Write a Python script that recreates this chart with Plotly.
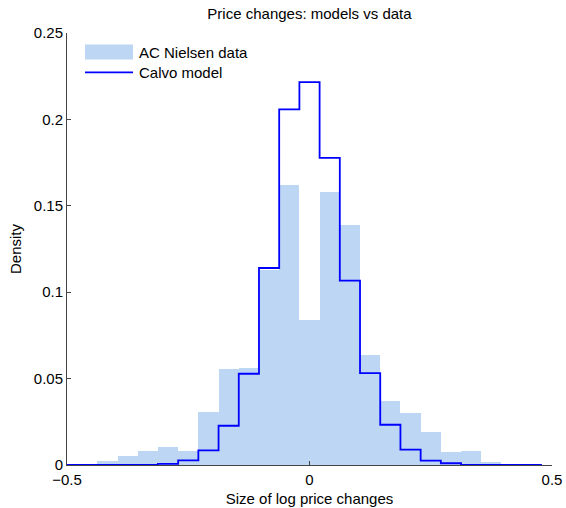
import numpy as np
import plotly.graph_objects as go

# ---- data ----
bin_width = 1 / 24
data_bins = list(range(-10, 10))          # bin index k, centre = k/24
data_density = [0.0025, 0.0054, 0.0083, 0.0106, 0.0083, 0.0308, 0.0557, 0.0561,
                0.113, 0.1618, 0.084, 0.158, 0.139, 0.0637, 0.0372, 0.0299,
                0.0193, 0.0077, 0.0083, 0.0019]
calvo_bins = list(range(-12, 12))
calvo_density = [0.0, 0.0, 0.0, 0.0001, 0.0002, 0.0006, 0.0027, 0.0085, 0.0227,
                 0.0528, 0.114, 0.2058, 0.2216, 0.1777, 0.1067, 0.0532, 0.0233,
                 0.0089, 0.0025, 0.001, 0.0002, 0.0001, 0.0, 0.0]
x_ticks = [-0.5, 0, 0.5]
x_ticklabels = ["\u22120.5", "0", "0.5"]
y_ticks = [0, 0.05, 0.1, 0.15, 0.2, 0.25]
y_ticklabels = ["0", "0.05", "0.1", "0.15", "0.2", "0.25"]

FONT = "Liberation Sans, Arial, Helvetica, sans-serif"
FS = 15
BAR_COLOR = "rgb(189,214,244)"
LINE_COLOR = "rgb(0,0,255)"
AX_COLOR = "#444444"

data_centres = np.array(data_bins) * bin_width
calvo_centres = np.array(calvo_bins) * bin_width

# stairs outline for the model histogram
sx, sy = [], []
for c, v in zip(calvo_centres, calvo_density):
    sx += [c - bin_width / 2, c + bin_width / 2]
    sy += [v, v]

fig = go.Figure()
fig.add_trace(go.Bar(x=data_centres, y=data_density, width=bin_width,
                     marker=dict(color=BAR_COLOR, line=dict(width=0)),
                     name="AC Nielsen data", showlegend=False))
fig.add_trace(go.Scatter(x=sx, y=sy, mode="lines",
                         line=dict(color=LINE_COLOR, width=1.8),
                         name="Calvo model", showlegend=False, cliponaxis=True))

W, H = 566, 508
L, R, T, B = 67, 14, 33, 43
pw, ph = W - L - R, H - T - B
def px(x):           # page x pixel -> paper
    return (x - L) / pw
def py(y):           # page y pixel -> paper
    return (H - B - y) / ph

# MATLAB-style legend with wide patches
fig.add_shape(type="rect", xref="paper", yref="paper",
              x0=px(85), x1=px(133), y0=py(59.5), y1=py(44.5),
              fillcolor=BAR_COLOR, line=dict(width=0))
fig.add_shape(type="line", xref="paper", yref="paper",
              x0=px(85), x1=px(133), y0=py(72.3), y1=py(72.3),
              line=dict(color=LINE_COLOR, width=1.8))
fig.add_annotation(text="AC Nielsen data", xref="paper", yref="paper",
                   x=px(137), y=py(52.5), xanchor="left", yanchor="middle",
                   showarrow=False, font=dict(family=FONT, size=FS, color="black"))
fig.add_annotation(text="Calvo model", xref="paper", yref="paper",
                   x=px(137), y=py(72.5), xanchor="left", yanchor="middle",
                   showarrow=False, font=dict(family=FONT, size=FS, color="black"))

fig.update_layout(
    width=W, height=H,
    margin=dict(l=L, r=R, t=T, b=B, autoexpand=False),
    plot_bgcolor="white", paper_bgcolor="white",
    bargap=0,
    font=dict(family=FONT, size=FS, color="black"),
    title=dict(text="Price changes: models vs data", x=0.5, xref="paper",
               xanchor="center", y=1 - 14 / H, yref="container",
               yanchor="middle",
               font=dict(family=FONT, size=FS, color="black")),
    xaxis=dict(range=[-0.5, 0.5], tickvals=x_ticks, ticktext=x_ticklabels,
               ticks="inside", ticklen=4, tickcolor=AX_COLOR, showline=True,
               linecolor=AX_COLOR, linewidth=1, showgrid=False, zeroline=False,
               mirror=False, ticklabelstandoff=1,
               title=dict(text="Size of log price changes", standoff=6,
                          font=dict(family=FONT, size=FS))),
    yaxis=dict(range=[0, 0.25], tickvals=y_ticks, ticktext=y_ticklabels,
               ticks="inside", ticklen=4, tickcolor=AX_COLOR, showline=True,
               linecolor=AX_COLOR, linewidth=1, showgrid=False, zeroline=False,
               mirror=False,
               title=dict(text="Density", standoff=8,
                          font=dict(family=FONT, size=FS))),
)

# remove the browser's default 8px body margin so the figure fills the window
fig.write_html("out.html",
               config={"displayModeBar": False},
               post_script="document.body.style.margin='0px';"
                           "document.body.style.overflow='hidden';")
